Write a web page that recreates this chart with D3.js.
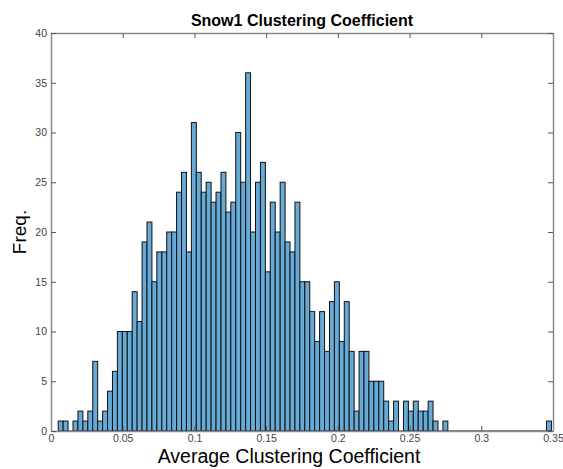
<!DOCTYPE html>
<html>
<head>
<meta charset="utf-8">
<script src="https://cdn.jsdelivr.net/npm/d3@7"></script>
<style>
  body { margin: 0; background: #fff; }
  svg { display: block; font-family: "Liberation Sans", Arial, sans-serif; }
</style>
</head>
<body>
<svg width="563" height="469"></svg>
<script>
// histogram counts, 100 equal bins between dataMin and dataMax
var counts = [
  1, 1, 0, 1, 2, 1, 2, 7, 1, 2,
  4, 6, 10, 10, 10, 14, 11, 19, 21, 15,
  18, 18, 20, 20, 24, 26, 18, 31, 26, 24,
  25, 23, 24, 26, 22, 23, 30, 25, 36, 20,
  25, 27, 16, 23, 20, 25, 19, 18, 23, 15,
  15, 12, 9, 12, 8, 13, 15, 9, 13, 8,
  2, 8, 8, 5, 5, 5, 3, 1, 3, 0,
  3, 2, 3, 2, 2, 3, 1, 0, 1, 0,
  0, 0, 0, 0, 0, 0, 0, 0, 0, 0,
  0, 0, 0, 0, 0, 0, 0, 0, 0, 1
];
var dataMin = 0.00503, dataMax = 0.3489;
var xTicks = [0, 0.05, 0.1, 0.15, 0.2, 0.25, 0.3, 0.35];
var xTickLabels = ["0", "0.05", "0.1", "0.15", "0.2", "0.25", "0.3", "0.35"];
var yTicks = [0, 5, 10, 15, 20, 25, 30, 35, 40];

function draw() {
    var svg = d3.select("svg");
    var mLeft = 51, mRight = 553, mTop = 33, mBottom = 431;

    var x = d3.scaleLinear().domain([0, 0.35]).range([mLeft, mRight]);
    var y = d3.scaleLinear().domain([0, 40]).range([mBottom, mTop]);

    var bw = (dataMax - dataMin) / counts.length;
    var bins = counts.map(function(c, i) {
        return { x0: dataMin + i * bw, x1: dataMin + (i + 1) * bw, n: c };
    });

    // baseline drawn where bins are empty
    svg.append("line")
        .attr("x1", x(dataMin)).attr("x2", x(dataMax))
        .attr("y1", y(0)).attr("y2", y(0))
        .attr("stroke", "#111").attr("stroke-width", 1);

    svg.append("g").selectAll("rect")
        .data(bins.filter(d => d.n > 0))
        .enter().append("rect")
        .attr("x", d => x(d.x0))
        .attr("width", d => x(d.x1) - x(d.x0))
        .attr("y", d => y(d.n))
        .attr("height", d => y(0) - y(d.n))
        .attr("fill", "#66aad7")
        .attr("stroke", "#111")
        .attr("stroke-width", 1);

    var axisColor = "#8a8a8a";
    var tl = 5;

    function styleAxis(g) {
        g.select(".domain").attr("stroke", axisColor).attr("stroke-width", 1.5);
        g.selectAll(".tick line").attr("stroke", "#555");
        g.selectAll(".tick text").attr("fill", "#444")
            .attr("font-family", "Liberation Sans, Arial, sans-serif")
            .style("font-size", "10.5px");
    }

    svg.append("g")
        .attr("transform", "translate(0," + mBottom + ")")
        .call(d3.axisBottom(x).tickValues(xTicks).tickFormat((d, i) => xTickLabels[i]).tickSizeInner(-tl).tickSizeOuter(0).tickPadding(4))
        .call(styleAxis);

    svg.append("g")
        .attr("transform", "translate(0," + mTop + ")")
        .call(d3.axisTop(x).tickValues(xTicks).tickFormat("").tickSizeInner(-tl).tickSizeOuter(0))
        .call(styleAxis);

    svg.append("g")
        .attr("transform", "translate(" + mLeft + ",0)")
        .call(d3.axisLeft(y).tickValues(yTicks).tickSizeInner(-tl).tickSizeOuter(0).tickPadding(4))
        .call(styleAxis);

    svg.append("g")
        .attr("transform", "translate(" + mRight + ",0)")
        .call(d3.axisRight(y).tickValues(yTicks).tickFormat("").tickSizeInner(-tl).tickSizeOuter(0))
        .call(styleAxis);

    svg.append("text")
        .attr("x", (mLeft + mRight) / 2).attr("y", 26)
        .attr("text-anchor", "middle")
        .style("font-size", "16px").style("font-weight", "bold")
        .text("Snow1 Clustering Coefficient");

    svg.append("text")
        .attr("x", 289).attr("y", 463)
        .attr("text-anchor", "middle")
        .style("font-size", "19.5px")
        .text("Average Clustering Coefficient");

    svg.append("text")
        .attr("transform", "translate(26,232) rotate(-90)")
        .attr("text-anchor", "middle")
        .style("font-size", "19px")
        .text("Freq.");
}

draw();
</script>
</body>
</html>
